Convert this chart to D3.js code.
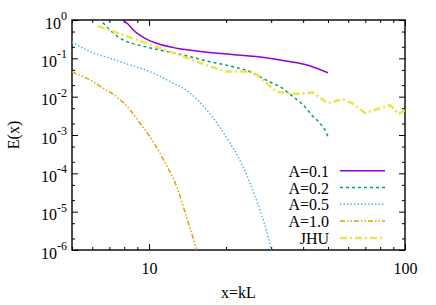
<!DOCTYPE html>
<html><head><meta charset="utf-8">
<script src="https://cdn.jsdelivr.net/npm/d3@7"></script>
<style>body{margin:0;background:#fff}svg{display:block}</style>
</head><body><svg id="c" width="436" height="305"></svg>
<script>
// ---- data ----
const seriesNames = ["A=0.1", "A=0.2", "A=0.5", "A=1.0", "JHU"];
const a01X = [7.75, 7.91, 8.27, 8.68, 9.64, 10.71, 12.82, 16.25, 20.7, 27.1, 32.5, 40.7, 50];
const a01Y = [1.3, 1.0, 0.786, 0.548, 0.333, 0.247, 0.183, 0.149, 0.127, 0.108, 0.0905, 0.069, 0.0422];
const a02X = [6.32, 6.53, 7.15, 7.93, 9.22, 10.71, 13.6, 17.3, 21.3, 24.8, 27.1, 29.7, 32.5, 36.5, 40, 43.2, 46.5, 49.4, 50];
const a02Y = [1.06, 0.903, 0.495, 0.301, 0.216, 0.172, 0.122, 0.0817, 0.0605, 0.0448, 0.0332, 0.0241, 0.0182, 0.0100, 0.00606, 0.00332, 0.00202, 0.00111, 0.00089];
const a05X = [5, 5.88, 7.04, 8.43, 10.08, 11.9, 14.45, 16.8, 18.9, 20.7, 22.6, 24.8, 27.1, 29.2, 30];
const a05Y = [0.267, 0.149, 0.100, 0.067, 0.0449, 0.0261, 0.0125, 0.00449, 0.00162, 6.2e-4, 2.23e-4, 5.6e-5, 1.1e-5, 2.2e-6, 1e-6];
const a10X = [5, 5.88, 6.63, 7.48, 8.43, 9.22, 10.08, 11.4, 12.82, 14.0, 15.35];
const a10Y = [0.044, 0.0272, 0.0165, 0.00998, 0.00449, 0.00202, 0.00090, 2.23e-4, 4.48e-5, 7.4e-6, 1e-6];
const jhuX = [6.32, 10, 16.7, 20, 25.5, 31.6, 38.2, 43.7, 50, 56.7, 62, 69.8, 87.4, 94.7, 100];
const jhuY = [0.698, 0.236, 0.067, 0.0453, 0.0453, 0.01323, 0.01174, 0.01285, 0.00663, 0.00869, 0.00684, 0.00375, 0.00606, 0.00353, 0.00449];
const xMajorTicks = [10, 100];
const xMinorTicks = [5, 6, 7, 8, 9, 20, 30, 40, 50, 60, 70, 80, 90];
const yExponents = [0, -1, -2, -3, -4, -5, -6];
const yMinorTicks = [5e-1, 2e-1, 5e-2, 2e-2, 5e-3, 2e-3, 5e-4, 2e-4, 5e-5, 2e-5, 5e-6, 2e-6];

// ---- layout ----
const L = 72, R = 405, T = 20, B = 250;
const FS = 16;
const svg = d3.select("#c");
const font = "'Liberation Serif','Times New Roman',serif";
const x = d3.scaleLog().domain([5, 100]).range([L, R]);
const y = d3.scaleLog().domain([1e-6, 1]).range([B, T]);

svg.append("defs").append("clipPath").attr("id", "clip")
  .append("rect").attr("x", L).attr("y", T).attr("width", R - L).attr("height", B - T);

function styleAxis(g) {
  g.select(".domain").remove();
  g.selectAll(".tick line").attr("stroke", "#000").attr("stroke-width", 1);
  g.selectAll("text").attr("font-family", font).attr("font-size", FS).attr("fill", "#000");
}
// x axes
svg.append("g").attr("transform", `translate(0,${B})`)
  .call(d3.axisBottom(x).tickValues(xMajorTicks).tickSize(-6).tickPadding(13).tickFormat(d3.format("d")))
  .call(styleAxis);
svg.append("g").attr("transform", `translate(0,${B})`)
  .call(d3.axisBottom(x).tickValues(xMinorTicks).tickSize(-3).tickFormat(""))
  .call(styleAxis);
svg.append("g").attr("transform", `translate(0,${T})`)
  .call(d3.axisTop(x).tickValues(xMajorTicks).tickSize(-6).tickFormat(""))
  .call(styleAxis);
svg.append("g").attr("transform", `translate(0,${T})`)
  .call(d3.axisTop(x).tickValues(xMinorTicks).tickSize(-3).tickFormat(""))
  .call(styleAxis);
// y axes
const yMajor = yExponents.map(e => Math.pow(10, e));
svg.append("g").attr("transform", `translate(${L},0)`)
  .call(d3.axisLeft(y).tickValues(yMajor).tickSize(-6).tickFormat(""))
  .call(styleAxis);
svg.append("g").attr("transform", `translate(${L},0)`)
  .call(d3.axisLeft(y).tickValues(yMinorTicks).tickSize(-3).tickFormat(""))
  .call(styleAxis);
svg.append("g").attr("transform", `translate(${R},0)`)
  .call(d3.axisRight(y).tickValues(yMajor).tickSize(-6).tickFormat(""))
  .call(styleAxis);
svg.append("g").attr("transform", `translate(${R},0)`)
  .call(d3.axisRight(y).tickValues(yMinorTicks).tickSize(-3).tickFormat(""))
  .call(styleAxis);

// y tick labels with superscripts
yExponents.forEach(e => {
  const t = svg.append("text").attr("x", L - 5).attr("y", y(Math.pow(10, e)) + 8.5)
    .attr("text-anchor", "end").attr("font-family", font).attr("font-size", FS).attr("fill", "#000");
  t.append("tspan").text("10");
  t.append("tspan").attr("font-size", 12).attr("dy", -8.5).text(e === 0 ? "0" : "-" + (-e));
});

// frame
svg.append("rect").attr("x", L).attr("y", T).attr("width", R - L).attr("height", B - T)
  .attr("fill", "none").attr("stroke", "#000").attr("stroke-width", 1.4);

// axis titles
svg.append("text").attr("x", (L + R) / 2).attr("y", 298).attr("text-anchor", "middle")
  .attr("font-family", font).attr("font-size", FS).text("x=kL");
svg.append("text").attr("transform", `translate(19,${(T + B) / 2}) rotate(-90)`).attr("text-anchor", "middle")
  .attr("font-family", font).attr("font-size", FS).text("E(x)");

// series
const series = [
  {xs: a01X, ys: a01Y, color: "#9400d3", dash: null, w: 1.5, curve: d3.curveMonotoneX},
  {xs: a02X, ys: a02Y, color: "#009e73", dash: "3,3", w: 1.5, curve: d3.curveMonotoneX},
  {xs: a05X, ys: a05Y, color: "#56b4e9", dash: "1.5,2", w: 1.5, curve: d3.curveMonotoneX},
  {xs: a10X, ys: a10Y, color: "#e69f00", dash: "5,2,1.5,2,1.5,2", w: 1.5, curve: d3.curveMonotoneX},
  {xs: jhuX, ys: jhuY, color: "#f0e442", dash: "7,3,2,3", w: 2.5, curve: d3.curveLinear}
];
const plot = svg.append("g").attr("clip-path", "url(#clip)");
series.forEach(s => {
  const pts = s.xs.map((v, i) => [v, s.ys[i]]);
  const line = d3.line().x(d => x(d[0])).y(d => y(d[1])).curve(s.curve);
  plot.append("path").attr("d", line(pts)).attr("fill", "none")
    .attr("stroke", s.color).attr("stroke-width", s.w)
    .attr("stroke-dasharray", s.dash);
});

// legend
const leg = svg.append("g");
series.forEach((s, i) => {
  const ly = 170.7 + 16.8 * i;
  leg.append("text").attr("x", 329).attr("y", ly + 6).attr("text-anchor", "end")
    .attr("font-family", font).attr("font-size", FS).text(seriesNames[i]);
  leg.append("line").attr("x1", 340).attr("x2", 385).attr("y1", ly).attr("y2", ly)
    .attr("stroke", s.color).attr("stroke-width", s.w).attr("stroke-dasharray", s.dash);
});
</script></body></html>
